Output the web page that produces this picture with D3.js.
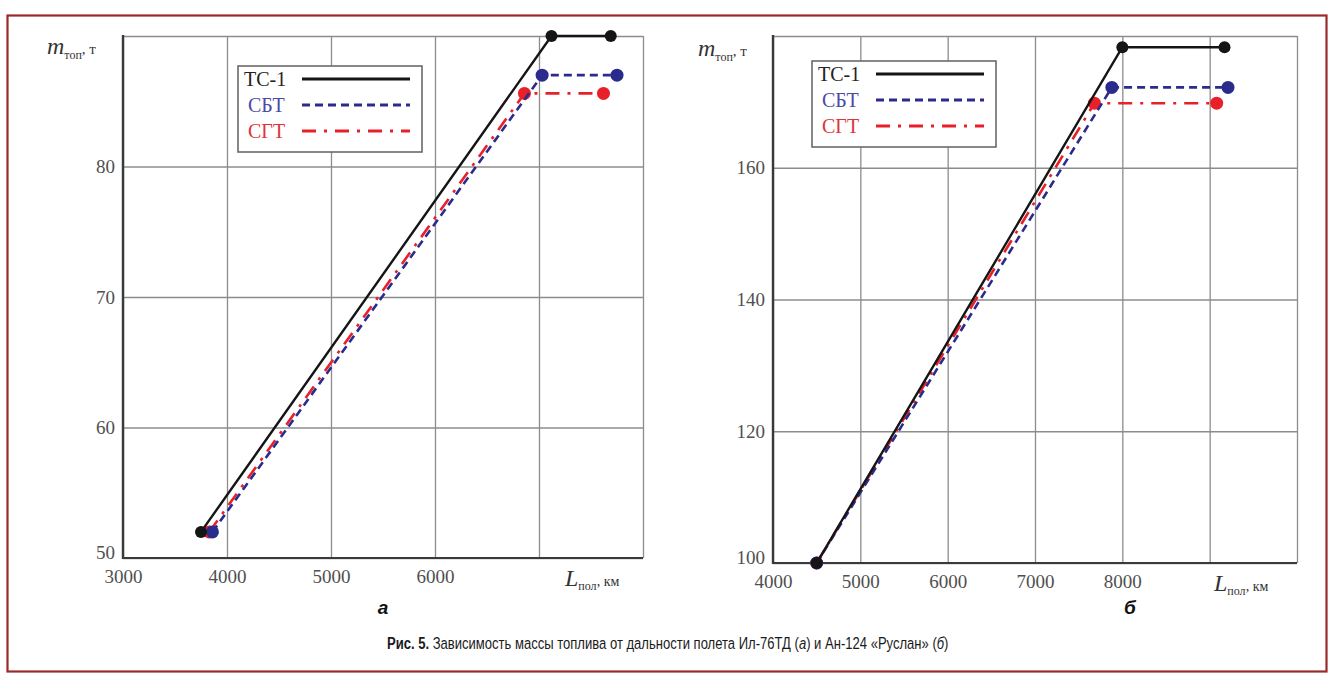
<!DOCTYPE html>
<html>
<head>
<meta charset="utf-8">
<script src="https://cdn.jsdelivr.net/npm/d3@7/dist/d3.min.js"></script>
<style>
  html, body { margin: 0; padding: 0; background: #ffffff; }
  svg { display: block; }
</style>
</head>
<body>
<svg id="fig" width="1334" height="678"></svg>
<script>
// ---- Ил-76ТД (а): fuel mass vs flight range ----
const ts1RangeA = [3750, 7120, 7690];
const ts1MassA  = [52, 90, 90];
const sbtRangeA = [3860, 7030, 7750];
const sbtMassA  = [52, 87, 87];
const sgtRangeA = [3830, 6860, 7620];
const sgtMassA  = [52, 85.6, 85.6];
const xTicksA = [3000, 4000, 5000, 6000, 7000, 8000];
const xLabelsA = ["3000", "4000", "5000", "6000", "", ""];
const yTicksA = [50, 60, 70, 80, 90];
const yLabelsA = ["50", "60", "70", "80", ""];

// ---- Ан-124 «Руслан» (б) ----
const ts1RangeB = [4500, 8000, 9170];
const ts1MassB  = [100, 178.3, 178.3];
const sbtRangeB = [4500, 7880, 9210];
const sbtMassB  = [100, 172.2, 172.2];
const sgtRangeB = [4500, 7680, 9080];
const sgtMassB  = [100, 169.8, 169.8];
const xTicksB = [4000, 5000, 6000, 7000, 8000, 9000, 10000];
const xLabelsB = ["4000", "5000", "6000", "7000", "8000", "", ""];
const yTicksB = [100, 120, 140, 160, 180];
const yLabelsB = ["100", "120", "140", "160", ""];

const fuelNames = ["ТС-1", "СБТ", "СГТ"];

const styles = {
  "ТС-1": { color: "#151515", text: "#222222", dash: null, width: 2.4, r: 6 },
  "СБТ":  { color: "#2b2b8e", text: "#4a4aa6", dash: "8,5", width: 2.6, r: 6.5 },
  "СГТ":  { color: "#e8202a", text: "#e0343a", dash: "14,8,3,8", width: 2.6, r: 6.5 }
};

const svg = d3.select("#fig");
const serif = "'Liberation Serif', 'DejaVu Serif', serif";

// outer frame
svg.append("rect")
  .attr("x", 7.5).attr("y", 15.5).attr("width", 1319).attr("height", 656)
  .attr("fill", "none").attr("stroke", "#9a2a2a").attr("stroke-width", 2.2);

function panel(cfg) {
  const x = d3.scaleLinear().domain(cfg.xDomain).range([cfg.left, cfg.right]);
  const y = d3.scaleLinear().domain(cfg.yDomain).range([cfg.bottom, cfg.top]);
  const g = svg.append("g");
  const h = cfg.bottom - cfg.top, w = cfg.right - cfg.left;

  // vertical grid + x tick labels
  const xAxis = g.append("g")
    .attr("transform", `translate(0,${cfg.bottom})`)
    .call(d3.axisBottom(x).tickValues(cfg.xTicks).tickSize(-h).tickPadding(12)
      .tickFormat((d, i) => cfg.xLabels[i]));
  xAxis.select(".domain").remove();
  xAxis.selectAll("line").attr("stroke", "#8c8c8c").attr("stroke-width", 1.3);
  xAxis.selectAll("text").attr("font-family", serif).attr("font-size", 19)
    .attr("fill", "#505050");

  // horizontal grid + y tick labels
  const yAxis = g.append("g")
    .attr("transform", `translate(${cfg.left},0)`)
    .call(d3.axisLeft(y).tickValues(cfg.yTicks).tickSize(-w).tickPadding(8)
      .tickFormat((d, i) => cfg.yLabels[i]));
  yAxis.select(".domain").remove();
  yAxis.selectAll("line").attr("stroke", "#8c8c8c").attr("stroke-width", 1.3);
  yAxis.selectAll("text").attr("font-family", serif).attr("font-size", 19)
    .attr("fill", "#505050");
  // the bottom value sits slightly above its gridline, clear of the x labels
  yAxis.selectAll(".tick").filter(d => d === cfg.yDomain[0]).select("text")
    .attr("dy", "0.05em");

  // main axes (left and bottom)
  g.append("line").attr("x1", cfg.left).attr("x2", cfg.left)
    .attr("y1", cfg.top - 1).attr("y2", cfg.bottom + 1)
    .attr("stroke", "#3a3a3a").attr("stroke-width", 2.4);
  g.append("line").attr("x1", cfg.left).attr("x2", cfg.right)
    .attr("y1", cfg.bottom).attr("y2", cfg.bottom)
    .attr("stroke", "#3a3a3a").attr("stroke-width", 1.8);

  // axis titles
  const yt = g.append("text").attr("x", cfg.yTitleX).attr("y", cfg.yTitleY)
    .attr("font-family", serif).attr("fill", "#333");
  yt.append("tspan").attr("font-style", "italic").attr("font-size", 24).text("m");
  yt.append("tspan").attr("font-size", 12).attr("dy", 5).text("топ");
  yt.append("tspan").attr("font-size", 15).attr("dy", -5).text(", т");

  const xt = g.append("text").attr("x", cfg.xTitleX).attr("y", cfg.bottom + 28)
    .attr("font-family", serif).attr("fill", "#333");
  xt.append("tspan").attr("font-style", "italic").attr("font-size", 24).text("L");
  xt.append("tspan").attr("font-size", 12).attr("dy", 4).text("пол");
  xt.append("tspan").attr("font-size", 14).attr("dy", -4).text(", км");

  // data lines and markers
  const line = d3.line().x(d => x(d[0])).y(d => y(d[1]));
  const order = ["СГТ", "СБТ", "ТС-1"];
  order.forEach(name => {
    const s = cfg.series[name];
    const pts = s.range.map((v, i) => [v, s.mass[i]]);
    const st = styles[name];
    g.append("path").datum(pts).attr("d", line)
      .attr("fill", "none").attr("stroke", st.color).attr("stroke-width", st.width)
      .attr("stroke-dasharray", st.dash);
    g.selectAll(null).data(pts).enter().append("circle")
      .attr("cx", d => x(d[0])).attr("cy", d => y(d[1])).attr("r", st.r)
      .attr("fill", st.color);
  });

  // legend
  const lg = g.append("g").attr("transform", `translate(${cfg.legX},${cfg.legY})`);
  lg.append("rect").attr("width", 184).attr("height", 86)
    .attr("fill", "#ffffff").attr("stroke", "#6a6a6a").attr("stroke-width", 1.6);
  fuelNames.forEach((name, i) => {
    const st = styles[name];
    const ry = 13 + i * 26;
    lg.append("text").attr("x", i === 0 ? 6 : 10).attr("y", ry + 7)
      .attr("font-family", serif).attr("font-size", 20).attr("fill", st.text).text(name);
    lg.append("line").attr("x1", 64).attr("x2", 172).attr("y1", ry).attr("y2", ry)
      .attr("stroke", st.color).attr("stroke-width", st.width + 0.6)
      .attr("stroke-dasharray", st.dash);
  });

  // panel letter
  svg.append("text").attr("x", cfg.letterX).attr("y", 614)
    .attr("font-family", "'Liberation Sans Narrow', 'Liberation Sans', Arial, sans-serif")
    .attr("font-weight", "bold").attr("font-style", "italic").attr("font-size", 19)
    .attr("text-anchor", "middle").attr("fill", "#111").text(cfg.letter);
}

panel({
  xDomain: [3000, 8000], yDomain: [50, 90],
  left: 123, right: 643, top: 36, bottom: 558,
  xTicks: xTicksA, xLabels: xLabelsA, yTicks: yTicksA, yLabels: yLabelsA,
  yTitleX: 47, yTitleY: 54, xTitleX: 565,
  legX: 238, legY: 66,
  letter: "а", letterX: 383,
  series: {
    "ТС-1": { range: ts1RangeA, mass: ts1MassA },
    "СБТ":  { range: sbtRangeA, mass: sbtMassA },
    "СГТ":  { range: sgtRangeA, mass: sgtMassA }
  }
});

panel({
  xDomain: [4000, 10000], yDomain: [100, 180],
  left: 773, right: 1297, top: 36, bottom: 563,
  xTicks: xTicksB, xLabels: xLabelsB, yTicks: yTicksB, yLabels: yLabelsB,
  yTitleX: 698, yTitleY: 56, xTitleX: 1214,
  legX: 812, legY: 61,
  letter: "б", letterX: 1130,
  series: {
    "ТС-1": { range: ts1RangeB, mass: ts1MassB },
    "СБТ":  { range: sbtRangeB, mass: sbtMassB },
    "СГТ":  { range: sgtRangeB, mass: sgtMassB }
  }
});

// figure caption, condensed to its printed width
const cap = svg.append("g");
const capText = cap.append("text").attr("x", 0).attr("y", 0)
  .attr("font-family", "'Liberation Sans Narrow', 'Liberation Sans', Arial, sans-serif")
  .attr("font-size", 17).attr("fill", "#1a1a1a");
capText.append("tspan").attr("font-weight", "bold").text("Рис. 5.");
capText.append("tspan").text(" Зависимость массы топлива от дальности полета Ил-76ТД (");
capText.append("tspan").attr("font-style", "italic").text("а");
capText.append("tspan").text(") и Ан-124 «Руслан» (");
capText.append("tspan").attr("font-style", "italic").text("б");
capText.append("tspan").text(")");
const natural = capText.node().getComputedTextLength();
const targetW = 562;
const k = targetW / natural;
cap.attr("transform", `translate(${387},${649}) scale(${k},1)`);
</script>
</body>
</html>
